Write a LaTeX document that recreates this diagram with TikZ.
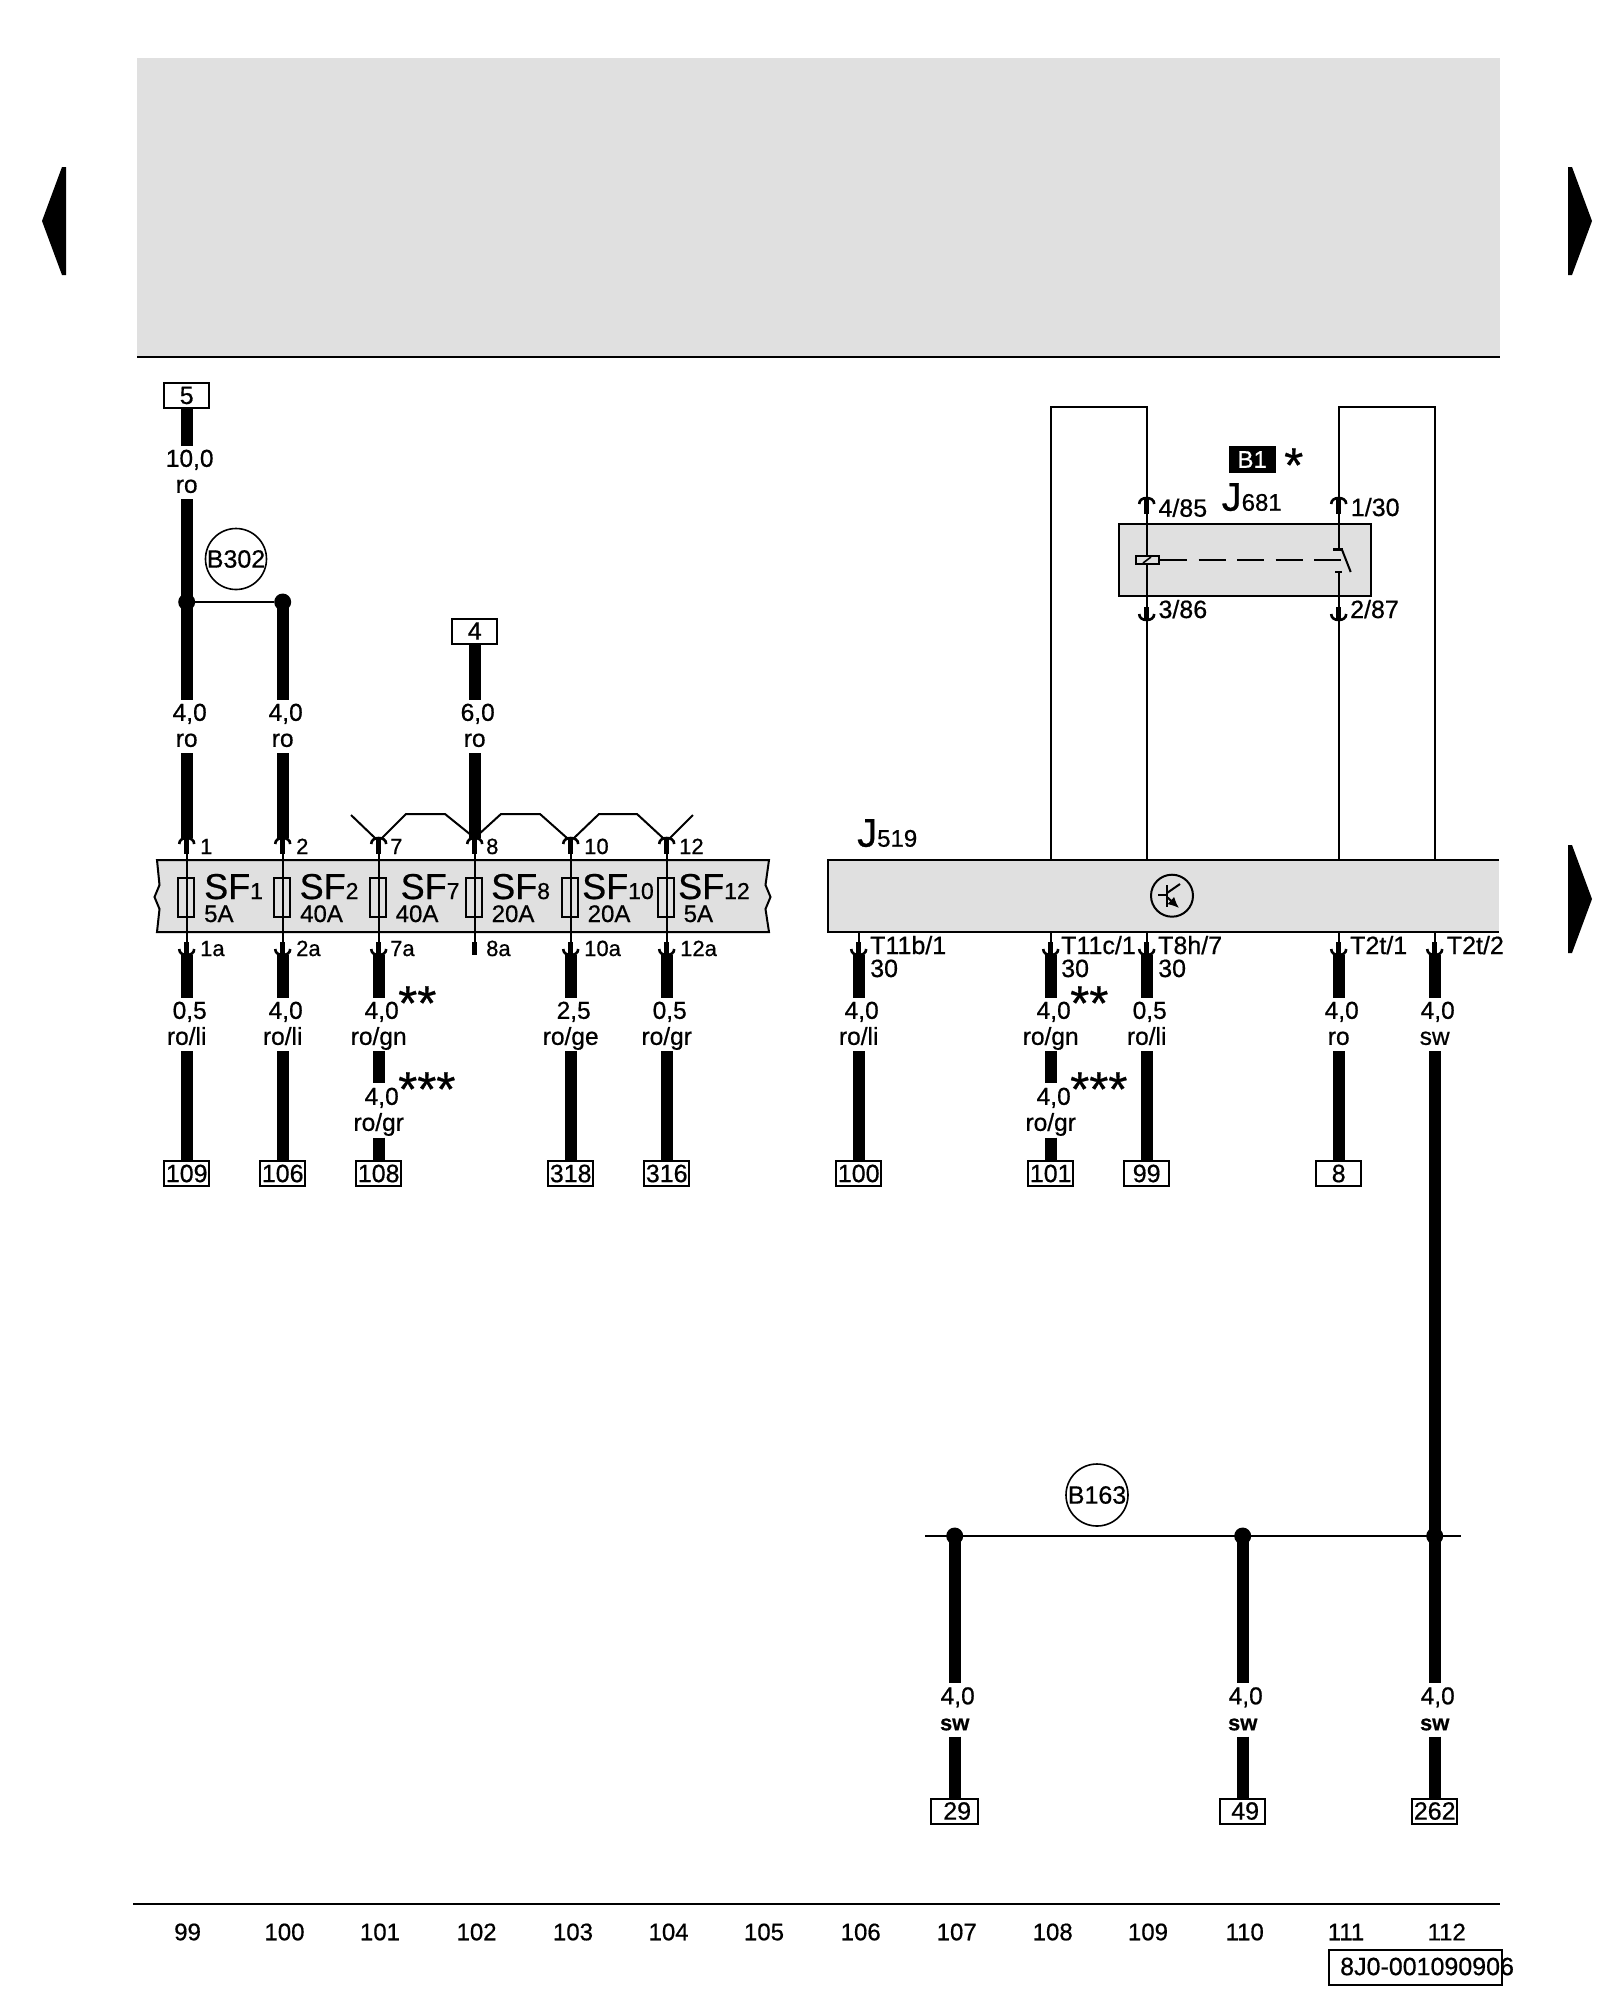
\documentclass[tikz,border=0pt]{standalone}
\usepackage{fontspec}
\setmainfont[FakeBold=0.6]{Liberation Sans}
\usetikzlibrary{positioning,calc,arrows.meta}
\definecolor{panelgrey}{HTML}{E0E0E0}
\newcommand{\wl}[2]{\hspace*{6pt}#1\\\smash{#2}\rule[-2.5pt]{0pt}{0pt}}
\newcommand{\fsize}[1]{\fontsize{#1}{#1}\selectfont}

\begin{document}
\begin{tikzpicture}[
    x=1pt, y=-1pt,
    every node/.style={inner sep=0pt, font=\fsize{24}},
    termbox/.style={rectangle, draw, line width=2pt, minimum width=45.5pt, minimum height=25pt, font=\fsize{25}},
    wirelab/.style={rectangle, align=center, minimum height=53pt, font=\fontsize{24.5}{26}\selectfont},
    wirelabb/.style={rectangle, align=center, minimum height=54pt, font=\fontsize{24.5}{26}\selectfont},
    pinlab/.style={anchor=base west, font=\fsize{22}},
    conlab/.style={anchor=base west, font=\fsize{25}},
    sflab/.style={anchor=base west, font=\fsize{36}},
    amplab/.style={anchor=base west, font=\fsize{24}},
    stars/.style={anchor=base west, font=\fsize{49}},
    fuse/.style={rectangle, draw, line width=1.6pt, minimum width=16pt, minimum height=39pt},
    jdot/.style={circle, fill=black, minimum size=17pt},
    refcircle/.style={circle, draw, line width=1.6pt, minimum size=60pt, font=\fsize{25}},
    wire/.style={line width=12pt},
    lead/.style={line width=2pt},
    pinup/.pic={
        \draw[line width=2.6pt] (-7.5,6) .. controls (-7.5,2) and (-4,0) .. (0,0) .. controls (4,0) and (7.5,2) .. (7.5,6);
        \draw[line width=4.5pt] (0,0) -- (0,16);
    },
    pindown/.pic={
        \draw[line width=2.6pt] (-7.5,-6) .. controls (-7.5,-2) and (-4,0) .. (0,0) .. controls (4,0) and (7.5,-2) .. (7.5,-6);
        \draw[line width=4.5pt] (0,-13) -- (0,0);
    }
]
\useasboundingbox (0,0) rectangle (1600,2000);

% header panel and page arrows
\fill[panelgrey] (137,58) rectangle (1500,357);
\draw[line width=2pt] (137,357) -- (1500,357);
\fill (42,221) -- (62,167) -- (66,167) -- (66,275) -- (62,275) -- cycle;
\fill (1592,221) -- (1572,167) -- (1568,167) -- (1568,275) -- (1572,275) -- cycle;
\fill (1592,899) -- (1572,845) -- (1568,845) -- (1568,953) -- (1572,953) -- cycle;

% fuse carrier
\draw[fill=panelgrey, line width=2pt] (157,860) -- (159.5,885) -- (154.5,897) -- (159.5,909) -- (157,932)
    -- (769,932) -- (765.5,909) -- (770.5,897) -- (765.5,885) -- (769,860) -- cycle;

\coordinate (p1) at (186.7,838);
\coordinate (p2) at (282.7,838);
\coordinate (p7) at (378.7,838);
\coordinate (p8) at (474.7,838);
\coordinate (p10) at (570.7,838);
\coordinate (p12) at (666.7,838);
\coordinate (q1) at (186.7,955);
\coordinate (q2) at (282.7,955);
\coordinate (q7) at (378.7,955);
\coordinate (q8) at (474.7,955);
\coordinate (q10) at (570.7,955);
\coordinate (q12) at (666.7,955);

\node[fuse] (f1) at (186,897.5) {};
\node[fuse] (f2) at (282,897.5) {};
\node[fuse] (f7) at (378,897.5) {};
\node[fuse] (f8) at (474,897.5) {};
\node[fuse] (f10) at (570,897.5) {};
\node[fuse] (f12) at (666,897.5) {};

\draw[lead] (p1) -- (q1);
\draw[lead] (p2) -- (q2);
\draw[lead] (p7) -- (q7);
\draw[lead] (p8) -- (q8);
\draw[lead] (p10) -- (q10);
\draw[lead] (p12) -- (q12);

\pic at (p1) {pinup};
\pic at (p2) {pinup};
\pic at (p7) {pinup};
\pic at (p8) {pinup};
\pic at (p10) {pinup};
\pic at (p12) {pinup};
\pic at (q1) {pindown};
\pic at (q2) {pindown};
\pic at (q7) {pindown};
\draw[line width=4.5pt] ($(q8)+(0,-13)$) -- (q8);
\pic at (q10) {pindown};
\pic at (q12) {pindown};

\node[pinlab] (n1) at (200,854) {1};
\node[pinlab] (n2) at (296,854) {2};
\node[pinlab] (n7) at (390,854) {7};
\node[pinlab] (n8) at (486,854) {8};
\node[pinlab] (n10) at (584,854) {10};
\node[pinlab] (n12) at (679,854) {12};
\node[pinlab] (n1a) at (200,956) {1a};
\node[pinlab] (n2a) at (296,956) {2a};
\node[pinlab] (n7a) at (390,956) {7a};
\node[pinlab] (n8a) at (486,956) {8a};
\node[pinlab] (n10a) at (584,956) {10a};
\node[pinlab] (n12a) at (680,956) {12a};

\node[sflab] (sf1) at (204,899) {SF{\fsize{23}1}};
\node[sflab] (sf2) at (299.5,899) {SF{\fsize{23}2}};
\node[sflab] (sf7) at (400.5,899) {SF{\fsize{23}7}};
\node[sflab] (sf8) at (491,899) {SF{\fsize{23}8}};
\node[sflab] (sf10) at (582,899) {SF{\fsize{23}10}};
\node[sflab] (sf12) at (678,899) {SF{\fsize{23}12}};
\node[amplab] (a1) at (204,922) {5A};
\node[amplab] (a2) at (300,922) {40A};
\node[amplab] (a7) at (395.5,922) {40A};
\node[amplab] (a8) at (491.5,922) {20A};
\node[amplab] (a10) at (587.5,922) {20A};
\node[amplab] (a12) at (683.5,922) {5A};

% jumper over the fuses
\draw[lead] (351,815) -- (375,838);
\draw[lead] (382,838) -- (406,814) -- (445,814) -- (p8) -- (501,814) -- (540,814) -- (567,838);
\draw[lead] (574,838) -- (599,814) -- (637,814) -- (663,838);
\draw[lead] (670,838) -- (693,815);

% feed side
\node[termbox] (t5) at (186.7,395.5) {5};
\node[termbox] (t4) at (474.7,631) {4};
\node[wirelab] (l5) at (186.7,472.5) {\wl{10,0}{ro}};
\node[wirelab] (l1) at (186.7,726.5) {\wl{4,0}{ro}};
\node[wirelab] (l2) at (282.7,726.5) {\wl{4,0}{ro}};
\node[wirelab] (l8) at (474.7,726.5) {\wl{6,0}{ro}};
\node[jdot] (d1) at (186.7,602) {};
\node[jdot] (d2) at (282.7,602) {};
\node[refcircle] (b302) at (236,559) {B302};

\draw[wire] (t5) -- (l5);
\draw[wire] (l5) -- (d1.center);
\draw[wire] (d1.center) -- (l1);
\draw[wire] (l1) -- (p1);
\draw[wire] (d2.center) -- (l2);
\draw[wire] (l2) -- (p2);
\draw[wire] (t4) -- (l8);
\draw[wire] (l8) -- (p8);
\draw[lead] (d1) -- (d2);

% outgoing wires of the fuses
\node[wirelab] (o1) at (186.7,1024.5) {\wl{0,5}{ro/li}};
\node[wirelab] (o2) at (282.7,1024.5) {\wl{4,0}{ro/li}};
\node[wirelab] (o7) at (378.7,1024.5) {\wl{4,0}{ro/gn}};
\node[wirelabb] (o7b) at (378.7,1110.5) {\wl{4,0}{ro/gr}};
\node[wirelab] (o10) at (570.7,1024.5) {\wl{2,5}{ro/ge}};
\node[wirelab] (o12) at (666.7,1024.5) {\wl{0,5}{ro/gr}};
\node[termbox] (t109) at (186.7,1173.5) {109};
\node[termbox] (t106) at (282.7,1173.5) {106};
\node[termbox] (t108) at (378.7,1173.5) {108};
\node[termbox] (t318) at (570.7,1173.5) {318};
\node[termbox] (t316) at (666.7,1173.5) {316};
\node[stars] (s7) at (398,1020) {**};
\node[stars] (s7b) at (398,1106) {***};

\draw[wire] (q1) -- (o1);
\draw[wire] (o1) -- (t109);
\draw[wire] (q2) -- (o2);
\draw[wire] (o2) -- (t106);
\draw[wire] (q7) -- (o7);
\draw[wire] (o7) -- (o7b);
\draw[wire] (o7b) -- (t108);
\draw[wire] (q10) -- (o10);
\draw[wire] (o10) -- (t318);
\draw[wire] (q12) -- (o12);
\draw[wire] (o12) -- (t316);

% J519
\fill[panelgrey] (827.5,860) rectangle (1499,932);
\draw[line width=2pt] (1499,860) -- (827.5,860) -- (827.5,932) -- (1499,932);
\node[anchor=base west, font=\fsize{40}] (j519) at (857,846.7) {J{\fsize{24}519}};
\node[circle, draw, line width=2pt, minimum size=42pt] (trans) at (1172,895.7) {};
\draw[line width=2pt] (1158,895) -- (1167,895);
\draw[line width=2pt] (1167,885) -- (1167,907);
\draw[line width=2pt] (1167,893) -- (1180,884);
\draw[-{Latex[length=11pt,width=10pt]}, line width=2pt] (1167,897) -- (1179,908);

\coordinate (q106) at (858.7,955);
\coordinate (q108) at (1050.7,955);
\coordinate (q109) at (1146.7,955);
\coordinate (q111) at (1338.7,955);
\coordinate (q112) at (1434.7,955);
\coordinate (b106) at (858.7,932);
\coordinate (b108) at (1050.7,932);
\coordinate (b109) at (1146.7,932);
\coordinate (b111) at (1338.7,932);
\coordinate (b112) at (1434.7,932);
\draw[lead] (b106) -- (q106);
\draw[lead] (b108) -- (q108);
\draw[lead] (b109) -- (q109);
\draw[lead] (b111) -- (q111);
\draw[lead] (b112) -- (q112);
\pic at (q106) {pindown};
\pic at (q108) {pindown};
\pic at (q109) {pindown};
\pic at (q111) {pindown};
\pic at (q112) {pindown};

\node[conlab] (n106) at (870,954) {T11b/1};
\node[conlab] (n106b) at (870,977) {30};
\node[conlab] (n108) at (1061,954) {T11c/1};
\node[conlab] (n108b) at (1061,977) {30};
\node[conlab] (n109) at (1158,954) {T8h/7};
\node[conlab] (n109b) at (1158,977) {30};
\node[conlab] (n111) at (1350,954) {T2t/1};
\node[conlab] (n112) at (1446.7,954) {T2t/2};

\node[wirelab] (o106) at (858.7,1024.5) {\wl{4,0}{ro/li}};
\node[wirelab] (o108) at (1050.7,1024.5) {\wl{4,0}{ro/gn}};
\node[wirelabb] (o108b) at (1050.7,1110.5) {\wl{4,0}{ro/gr}};
\node[wirelab] (o109) at (1146.7,1024.5) {\wl{0,5}{ro/li}};
\node[wirelab] (o111) at (1338.7,1024.5) {\wl{4,0}{ro}};
\node[wirelab] (o112) at (1434.7,1024.5) {\wl{4,0}{sw}};
\node[termbox] (t100) at (858.7,1173.5) {100};
\node[termbox] (t101) at (1050.7,1173.5) {101};
\node[termbox] (t99) at (1146.7,1173.5) {99};
\node[termbox] (t8) at (1338.7,1173.5) {8};
\node[stars] (s108) at (1070,1020) {**};
\node[stars] (s108b) at (1070,1106) {***};

\draw[wire] (q106) -- (o106);
\draw[wire] (o106) -- (t100);
\draw[wire] (q108) -- (o108);
\draw[wire] (o108) -- (o108b);
\draw[wire] (o108b) -- (t101);
\draw[wire] (q109) -- (o109);
\draw[wire] (o109) -- (t99);
\draw[wire] (q111) -- (o111);
\draw[wire] (o111) -- (t8);
\draw[wire] (q112) -- (o112);

% relay J681
\draw[fill=panelgrey, line width=2pt] (1119,524.3) rectangle (1370.7,595.7);
\node[anchor=base west, font=\fsize{40}] (j681) at (1221.5,510.7) {J{\fsize{24}681}};
\node[rectangle, fill=black, text=white, minimum width=47pt, minimum height=27.5pt, font=\fsize{24}] (b1) at (1252.2,459.5) {B1};
\node[stars] (s681) at (1284,482) {*};
\node[conlab] (n485) at (1158.3,516.7) {4/85};
\node[conlab] (n130) at (1350.7,516) {1/30};
\node[conlab] (n386) at (1158.3,618) {3/86};
\node[conlab] (n287) at (1350,618) {2/87};

\coordinate (r1) at (1146.7,498);
\coordinate (r3) at (1146.7,620);
\coordinate (r4) at (1338.7,498);
\coordinate (r2) at (1338.7,620);
\coordinate (rsa) at (1338.7,549);
\coordinate (rsb) at (1338.7,572);
\coordinate (c108) at (1050.7,860);
\coordinate (c109) at (1146.7,860);
\coordinate (c111) at (1338.7,860);
\coordinate (c112) at (1434.7,860);
\coordinate (tl) at (1050.7,407.3);
\coordinate (tm) at (1146.7,407.3);
\coordinate (tr) at (1338.7,407.3);
\coordinate (te) at (1434.7,407.3);

\draw[lead] (c108) -- (tl) -- (tm) -- (r1);
\draw[lead] (r1) -- (r3);
\draw[lead] (r3) -- (c109);
\draw[lead] (c111) -- (r2);
\draw[lead] (r2) -- (rsb);
\draw[lead] (rsa) -- (r4);
\draw[lead] (r4) -- (tr) -- (te) -- (c112);
\pic at (r1) {pinup};
\pic at (r4) {pinup};
\pic at (r3) {pindown};
\pic at (r2) {pindown};

\node[rectangle, draw, fill=panelgrey, line width=2pt, minimum width=23pt, minimum height=8pt] (coil) at (1147.7,560) {};
\draw[line width=1.6pt] (1143,563) -- (1151,557);
\draw[line width=2pt, dash pattern=on 27pt off 11.5pt] (coil) -- (1343,560);
\draw[line width=3pt] (1333,549) -- (1343,549);
\draw[line width=2.5pt] (1335,572) -- (1342,572);
\draw[line width=2pt] (1341.7,549) -- (1350.7,572);

% earth point B163
\coordinate (busl) at (925,1536);
\coordinate (busr) at (1461,1536);
\node[jdot] (d107) at (954.7,1536) {};
\node[jdot] (d110) at (1242.7,1536) {};
\node[jdot] (d112) at (1434.7,1536) {};
\node[refcircle, minimum size=62pt] (b163) at (1097,1495) {B163};
\node[wirelab, font=\fontsize{22}{26}\selectfont\bfseries] (g107) at (954.7,1710) {\wl{\mdseries\fsize{24.5}4,0}{sw}};
\node[wirelab, font=\fontsize{22}{26}\selectfont\bfseries] (g110) at (1242.7,1710) {\wl{\mdseries\fsize{24.5}4,0}{sw}};
\node[wirelab, font=\fontsize{22}{26}\selectfont\bfseries] (g112) at (1434.7,1710) {\wl{\mdseries\fsize{24.5}4,0}{sw}};
\node[termbox, minimum width=47pt] (t29) at (954.7,1811) {\hspace*{5pt}29};
\node[termbox] (t49) at (1242.7,1811) {\hspace*{5pt}49};
\node[termbox] (t262) at (1434.7,1811) {262};

\draw[wire] (o112) -- (d112.center);
\draw[wire] (d112.center) -- (g112);
\draw[wire] (g112) -- (t262);
\draw[wire] (d107.center) -- (g107);
\draw[wire] (g107) -- (t29);
\draw[wire] (d110.center) -- (g110);
\draw[wire] (g110) -- (t49);
\draw[lead] (busl) -- (busr);

% footer
\draw[line width=2pt] (133,1904) -- (1500,1904);
\node (c99) at (187.6,1932) {99};
\node (c100) at (284.5,1932) {100};
\node (c101) at (380,1932) {101};
\node (c102) at (476.6,1932) {102};
\node (c103) at (573,1932) {103};
\node (c104) at (668.6,1932) {104};
\node (c105) at (764,1932) {105};
\node (c106) at (860.7,1932) {106};
\node (c107) at (956.7,1932) {107};
\node (c108n) at (1052.7,1932) {108};
\node (c109n) at (1148,1932) {109};
\node (c110) at (1244.7,1932) {110};
\node (c111n) at (1346,1932) {111};
\node (c112n) at (1446.7,1932) {112};
\node[rectangle, draw, line width=2pt, minimum width=173pt, minimum height=35pt] (frame) at (1415,1967.5) {};
\node[anchor=west, font=\fsize{25}] (docno) at (1340,1966.5) {8J0-001090906};

\end{tikzpicture}
\end{document}
